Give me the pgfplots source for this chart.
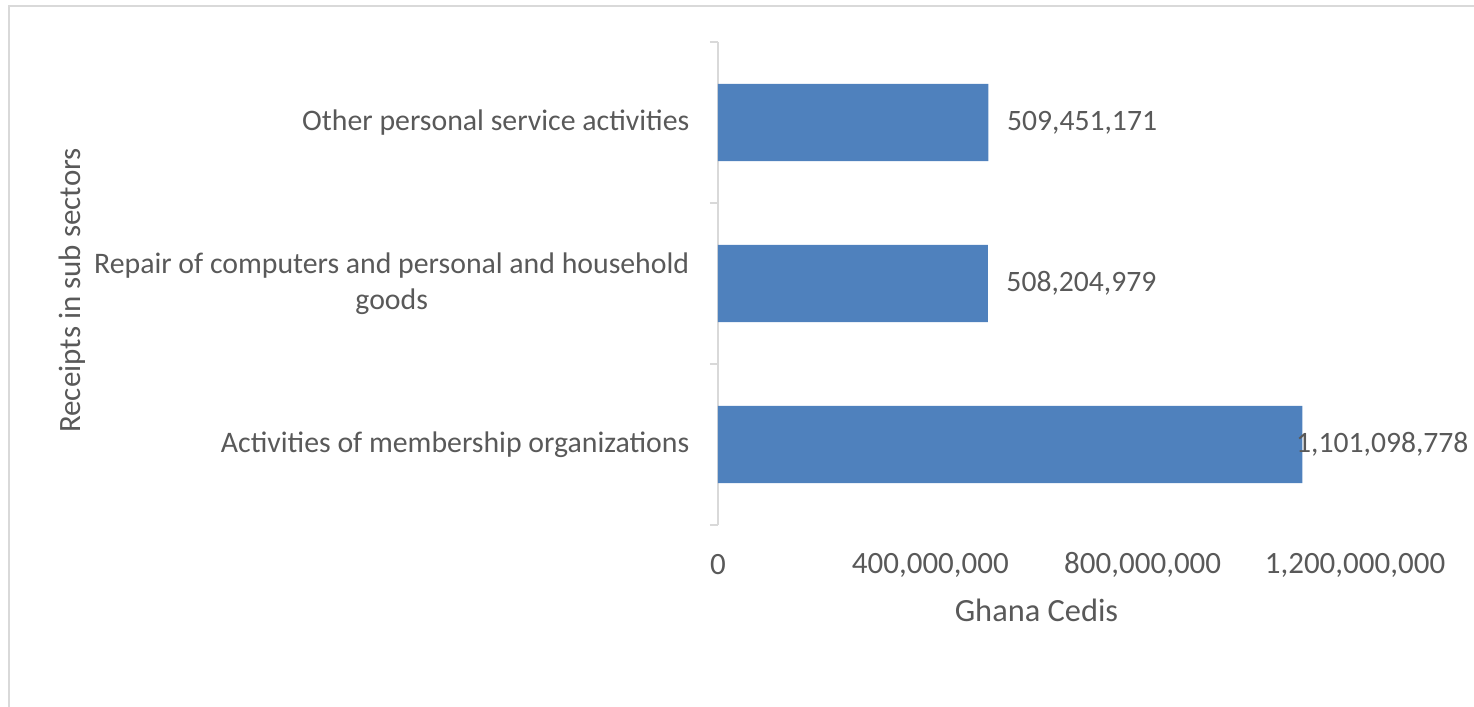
\documentclass[border=0pt]{standalone}
\usepackage{fontspec}
\setmainfont{Carlito}
\usepackage{pgfplots}
\usepackage{pgfplotstable}
\pgfplotsset{compat=1.18}

\definecolor{barblue}{HTML}{4F81BD}
\definecolor{txtgray}{HTML}{595959}
\definecolor{linegray}{HTML}{D9D9D9}

% y = category slot (bottom = 0), shift = label offset in pt
\pgfplotstableread{
y x shift label
2 509451171 4 509,451,171
1 508204979 4 508,204,979
0 1101098778 -8.5 1,101,098,778
}\receipts

\begin{document}
\begin{tikzpicture}
\fontsize{15.5}{18.5}\selectfont
\useasboundingbox (-359pt,-91pt) rectangle (378pt,262.5pt);
\draw[linegray, line width=1.2pt] (-354.5pt,-100pt) -- (-354.5pt,259.5pt) -- (390pt,259.5pt);
\begin{axis}[
    at={(0,0)}, anchor=south west,
    scale only axis,
    width=318.5pt, height=241.5pt,
    font=\fontsize{15.5}{18.5}\selectfont,
    xbar, bar width=0.48,
    xmin=0, xmax=1200000000,
    ymin=-0.5, ymax=2.5,
    xtick={0,400000000,800000000,1200000000},
    scaled x ticks=false,
    /pgf/number format/.cd, fixed, precision=0, 1000 sep={,}, assume math mode=true,
    /pgfplots/.cd,
    ytick={0,1,2},
    yticklabels={Activities of membership organizations,
                 {Repair of computers and personal and household\\goods},
                 Other personal service activities},
    minor ytick={-0.5,0.5,1.5,2.5},
    tick align=outside,
    major tick length=0pt,
    minor tick length=4pt,
    axis y line*=left, axis x line*=bottom,
    x axis line style={draw=none},
    y axis line style={linegray, line width=0.8pt},
    minor tick style={linegray, line width=0.8pt},
    tick label style={txtgray},
    yticklabel style={align=center, anchor=east, xshift=-9pt, font=\fontsize{14.9}{18}\selectfont},
    xticklabel style={anchor=center, yshift=-20pt},
    every axis x label/.style={at={(axis description cs:0.5,0)}, yshift=-42.5pt, anchor=center, txtgray, font=\fontsize{16.2}{19}\selectfont},
    every axis y label/.style={at={(axis description cs:-1.014,0.4855)}, rotate=90, anchor=center, txtgray},
    xlabel={Ghana Cedis},
    ylabel={Receipts in sub sectors},
    nodes near coords,
    point meta=explicit symbolic,
    visualization depends on={\thisrow{shift} \as \myshift},
    every node near coord/.append style={anchor=west, xshift=\myshift pt, txtgray, font=\fontsize{14.8}{18}\selectfont},
]
\addplot[fill=barblue, draw=none] table[x=x, y=y, meta=label] {\receipts};
\end{axis}
\end{tikzpicture}
\end{document}
